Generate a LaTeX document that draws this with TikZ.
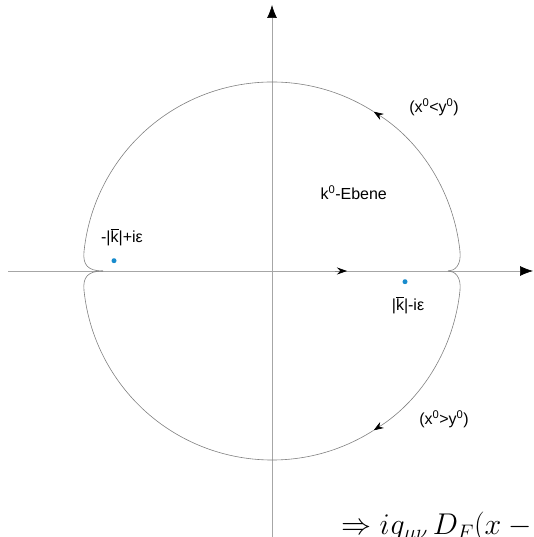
\RequirePackage{fix-cm}
\documentclass[tikz,border=0pt]{standalone}
\usepackage{fontspec}
\newfontfamily\lblfont{Liberation Sans}
\usetikzlibrary{arrows.meta}
\definecolor{poleblue}{RGB}{25,140,205}
\tikzset{
  axis/.style={draw=black!35, line width=0.7pt},
  contour/.style={draw=black!50, line width=0.6pt},
  axtip/.style={-{Latex[length=13pt,width=10pt,color=black]}},
  cotip/.style={-{Stealth[length=10pt,width=7pt,color=black]}},
  lbl/.style={font=\lblfont\fontsize{16}{19}\selectfont, inner sep=1pt},
  pole/.style={circle, fill=poleblue, inner sep=0pt, minimum size=5pt},
}
\begin{document}
\begin{tikzpicture}[x=1pt,y=1pt]
  \useasboundingbox (0,0) rectangle (534,537);
  \clip (0,0) rectangle (534,537);
  % achsen
  \draw[axis,axtip] (8,266) -- (533,266);
  \draw[axis,axtip] (272,0) -- (272,532);
  \coordinate (O) at (272,266);
  \coordinate (L) at (103,266);
  \coordinate (R) at (448,266);
  % reelle achse
  \draw[contour,cotip] (335,266) -- (347,266);
  % obere kontur
  \draw[contour,cotip] (R) .. controls (455,266) and (461.5,272) .. (459.96,285.76)
    arc[start angle=6, end angle=57.5, radius=189];
  \draw[contour] (O) ++(57.5:189) arc[start angle=57.5, end angle=174, radius=189]
    .. controls (82.5,272) and (88,266) .. (L);
  % untere kontur
  \draw[contour,cotip] (R) .. controls (455,266) and (461.5,260) .. (459.96,246.24)
    arc[start angle=-6, end angle=-57.5, radius=189];
  \draw[contour] (O) ++(-57.5:189) arc[start angle=-57.5, end angle=-174, radius=189]
    .. controls (82.5,260) and (88,266) .. (L);
  % pole
  \node[pole] (pl) at (114,276.3) {};
  \node[pole] (pr) at (405,255.3) {};
  % beschriftung
  \node[lbl] (lpl) at (122,300) {-|\(\overline{\mbox{k}}\)|+iε};
  \node[lbl] (lpr) at (408,232) {|\(\overline{\mbox{k}}\)|-iε};
  \node[lbl] (lup) at (434,430) {(x\textsuperscript{0}<y\textsuperscript{0})};
  \node[lbl] (llo) at (444,118) {(x\textsuperscript{0}>y\textsuperscript{0})};
  \node[lbl] (leb) at (353.7,344.5) {k\textsuperscript{0}-Ebene};
  \node[anchor=base west, inner sep=0pt, font=\fontsize{30}{36}\selectfont] (fml)
    at (341,2) {$\Rightarrow i g_{\mu\nu}\, D_F(x-y)$};
\end{tikzpicture}
\end{document}
